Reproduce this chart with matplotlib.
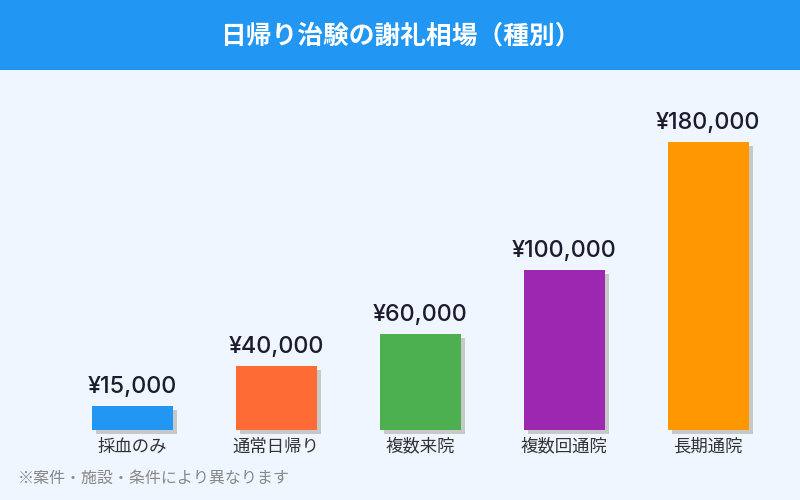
import matplotlib
matplotlib.use("Agg")
import matplotlib.pyplot as plt
from matplotlib.patches import Rectangle

plt.rcParams['font.family'] = ['Noto Sans CJK JP', 'DejaVu Sans']

categories = ["採血のみ", "通常日帰り", "複数来院", "複数回通院", "長期通院"]
values = [15000, 40000, 60000, 100000, 180000]
value_labels = ["¥15,000", "¥40,000", "¥60,000", "¥100,000", "¥180,000"]
colors = ["#2196F3", "#FF6B35", "#4CAF50", "#9C27B0", "#FF9800"]

title = "日帰り治験の謝礼相場（種別）"
note = "※案件・施設・条件により異なります"

bg = "#EFF6FF"
fig = plt.figure(figsize=(8, 5), dpi=100)
fig.patch.set_facecolor(bg)

# header band
fig.patches.append(Rectangle((0, 0.86), 1, 0.14, transform=fig.transFigure,
                             facecolor="#2196F3", edgecolor="none", zorder=0))
fig.text(0.5, 0.928, title, color="white", fontsize=18.5, fontweight="bold",
         ha="center", va="center")

ax = fig.add_axes([0.075, 0.14, 0.9, 0.72])
ax.set_facecolor("none")
ax.set_xlim(-0.5, 4.5)
ax.set_ylim(0, 225000)
ax.axis("off")

w = 0.5625
dx = 4 / 144  # shadow offset ~4px
dy = 2500
for i, v in enumerate(values):
    ax.bar(i + dx, v, width=w, bottom=-dy, color="#C8C8C8", zorder=1, clip_on=False)
    ax.bar(i, v, width=w, color=colors[i], zorder=2)
    ax.text(i, v + 12000, value_labels[i], ha="center", va="center",
            fontsize=16.8, fontweight="medium", color="#1C1C2E",
            family=['Inter', 'Noto Sans CJK JP'])
    ax.text(i, -10500, categories[i], ha="center", va="center",
            fontsize=12.5, color="#333333")

fig.text(0.022, 0.043, note, fontsize=11.5, color="#888888", ha="left", va="center")

fig.savefig("out.png", dpi=100, facecolor=bg)
